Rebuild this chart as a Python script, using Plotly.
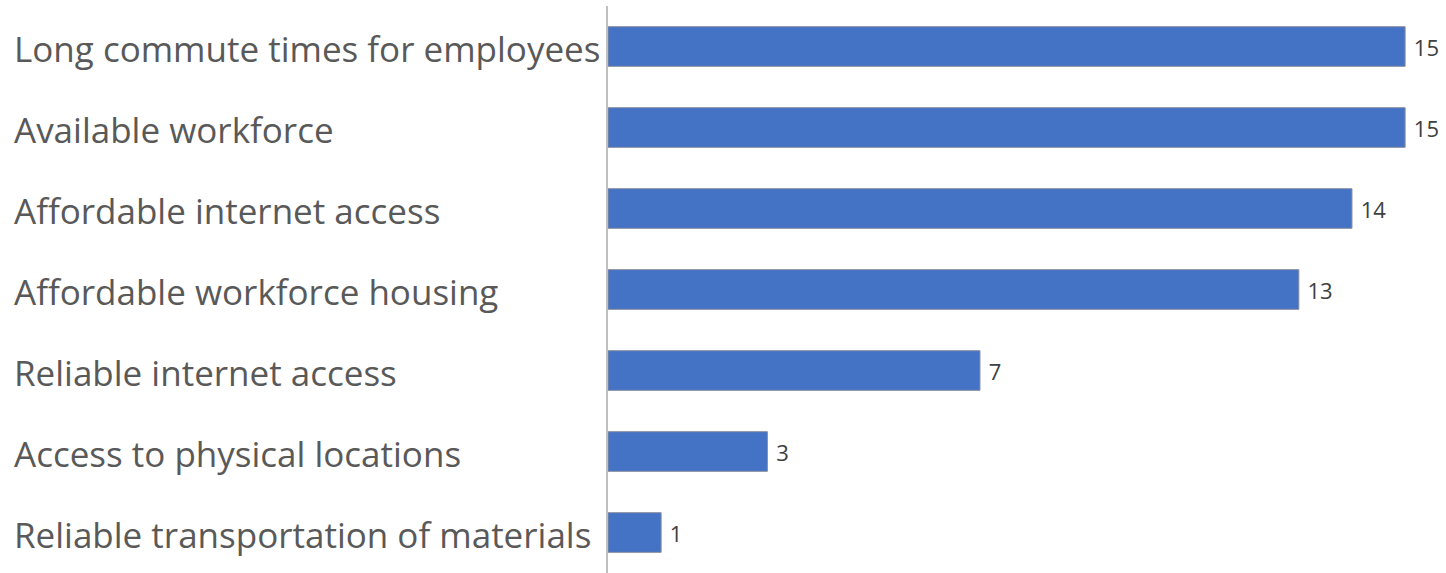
import plotly.graph_objects as go

categories = [
    "Long commute times for employees",
    "Available workforce",
    "Affordable internet access",
    "Affordable workforce housing",
    "Reliable internet access",
    "Access to physical locations",
    "Reliable transportation of materials",
]
values = [15, 15, 14, 13, 7, 3, 1]

fig = go.Figure(
    go.Bar(
        x=values,
        y=categories,
        orientation="h",
        marker=dict(color="#4472C4", line=dict(color="#8a8fa0", width=1)),
        width=0.49,
        text=[" " + str(v) for v in values],
        textposition="outside",
        textfont=dict(family="Open Sans", size=22, color="#404040"),
        cliponaxis=False,
    )
)

# Left-aligned category labels in the left margin
for cat in categories:
    fig.add_annotation(
        x=0, xref="paper", xanchor="left", xshift=-596,
        y=cat, yref="y", yanchor="middle", yshift=-2,
        text=cat, showarrow=False,
        font=dict(family="Open Sans", size=35, color="#595959"),
    )

fig.update_layout(
    width=1446,
    height=573,
    margin=dict(l=608, r=9, t=6, b=0),
    paper_bgcolor="white",
    plot_bgcolor="white",
    showlegend=False,
    xaxis=dict(range=[0, 15.6], visible=False, fixedrange=True),
    yaxis=dict(
        autorange="reversed",
        range=[6.5, -0.5],
        showline=True,
        linecolor="#bfbfbf",
        linewidth=2,
        ticks="",
        showticklabels=False,
        showgrid=False,
    ),
)

fig.write_html("out.html")
